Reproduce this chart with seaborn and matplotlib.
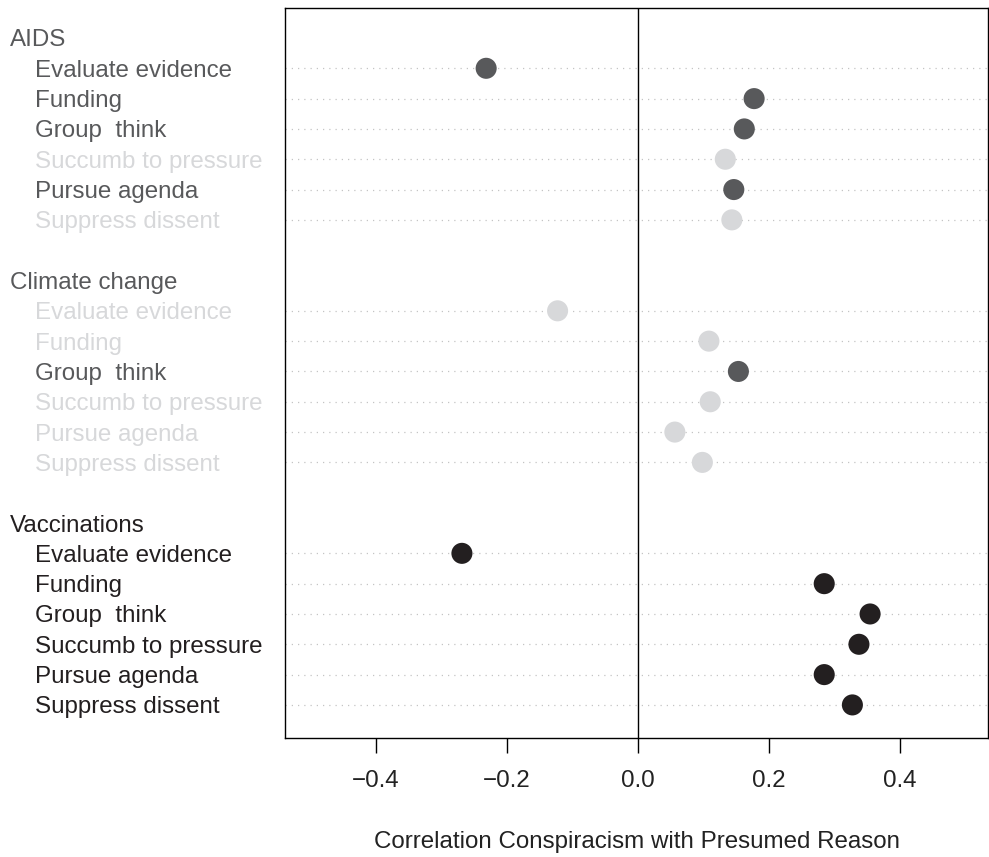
import numpy as np
import pandas as pd
import matplotlib
matplotlib.use("Agg")
import matplotlib.pyplot as plt
import matplotlib.transforms as mtransforms
import seaborn as sns

topics = ["AIDS", "Climate change", "Vaccinations"]
reasons = ["Evaluate evidence", "Funding", "Group  think",
           "Succumb to pressure", "Pursue agenda", "Suppress dissent"]

aids_r = [-0.232, 0.177, 0.162, 0.133, 0.146, 0.143]
climate_r = [-0.123, 0.108, 0.153, 0.110, 0.056, 0.098]
vacc_r = [-0.269, 0.284, 0.354, 0.337, 0.284, 0.327]

aids_sig = [1, 1, 1, 0, 1, 0]
climate_sig = [0, 0, 1, 0, 0, 0]
vacc_sig = [1, 1, 1, 1, 1, 1]

xticks = [-0.4, -0.2, 0.0, 0.2, 0.4]

DARK = "#58595b"
LIGHT = "#d7d8da"
BLACK = "#231f20"
topic_color = {"AIDS": DARK, "Climate change": DARK, "Vaccinations": BLACK}

# long table: one row per item, header and blank rows only get positions
rows = []
pos = 0
labels = []
for t, vals, sig in zip(topics, [aids_r, climate_r, vacc_r],
                        [aids_sig, climate_sig, vacc_sig]):
    labels.append((pos, t, topic_color[t], 10))
    pos += 1
    for reason, v, s in zip(reasons, vals, sig):
        col = topic_color[t] if s else LIGHT
        rows.append(dict(topic=t, reason=reason, r=v, row=pos, colour=col))
        labels.append((pos, reason, col, 35))
        pos += 1
    pos += 1  # blank row between groups
df = pd.DataFrame(rows)

sns.set_style("white")
plt.rcParams["font.family"] = ["Liberation Sans", "DejaVu Sans"]

FS = 17.4

fig = plt.figure(figsize=(9.89, 8.57), dpi=100)
ax = fig.add_axes([0.2882, 0.1389, 0.9990 - 0.2882, 0.9907 - 0.1389])

for y in df["row"]:
    ax.axhline(y, color="#c4c4c4", lw=0.9, ls=(0, (1, 4)), zorder=1)
ax.axvline(0, color="black", lw=1.0, zorder=2)

palette = {c: c for c in df["colour"].unique()}
sns.scatterplot(data=df, x="r", y="row", hue="colour", palette=palette,
                s=230, edgecolor="none", legend=False, ax=ax, zorder=3)

ax.set_xlim(-0.539, 0.534)
ax.set_ylim(23.09, -0.99)
ax.set_yticks([])
ax.set_xticks(xticks)
ax.set_xticklabels([f"{v:.1f}".replace("-", "\u2212") for v in xticks])
ax.tick_params(axis="x", direction="out", length=11, width=1.0,
               color="black", pad=12, labelsize=FS, labelcolor="#222222",
               bottom=True)
ax.set_xlabel("Correlation Conspiracism with Presumed Reason",
              fontsize=FS, color="#222222")
ax.xaxis.label.set_va("baseline")
ax.xaxis.set_label_coords(0.5, -0.1507)
ax.set_ylabel("")
for sp in ax.spines.values():
    sp.set_color("black")
    sp.set_linewidth(1.0)

trans = mtransforms.blended_transform_factory(
    mtransforms.IdentityTransform(), ax.transData)
for y, txt, col, xpx in labels:
    ax.text(xpx, y, txt, transform=trans, ha="left", va="center_baseline",
            fontsize=FS, color=col, clip_on=False)

fig.savefig("out.png", dpi=100)
